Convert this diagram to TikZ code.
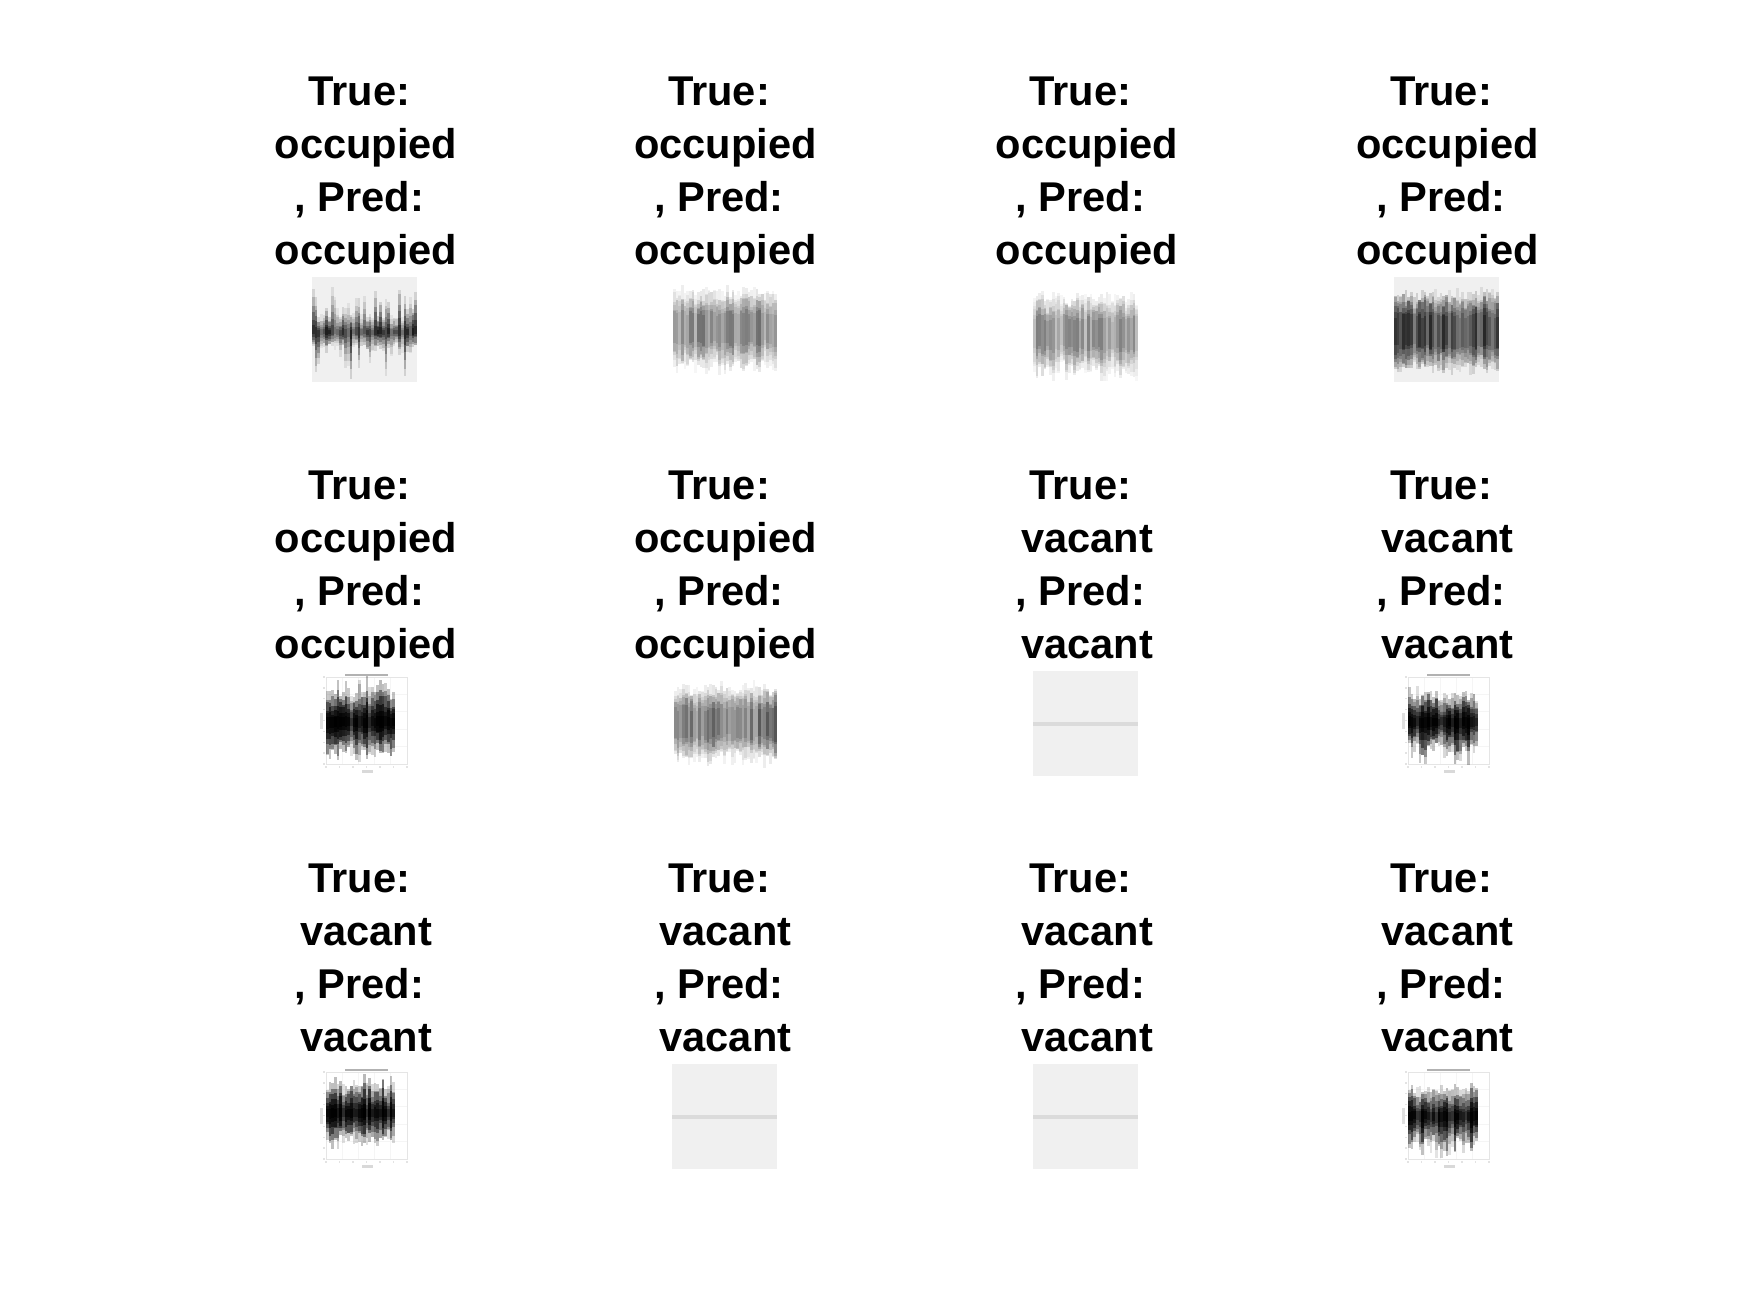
\documentclass[tikz,border=0pt]{standalone}
\usepackage{fontspec}
\setmainfont{Liberation Sans}
\newcommand{\gap}{\rule{6.5pt}{0pt}}
\newcommand{\lab}[4]{\node[labeltext] (#1) at (#2,#3) {True:\gap\\#4\\,\ Pred:\gap\\#4};}
% x0 x1 cy up down core layer-opacity seed spikiness
\newcommand{\wavebars}[9]{%
  \pgfmathsetseed{#8}%
  \pgfmathtruncatemacro{\nbars}{round((#2-#1)/2.7)}%
  \pgfmathsetmacro{\stepw}{(#2-#1)/\nbars}%
  \pgfmathsetmacro{\tpow}{#9<1 ? 0.45 : 1}%
  \pgfmathsetmacro{\slope}{#9<1 ? 0.6 : 0.85}%
  \pgfmathtruncatemacro{\nlast}{\nbars-1}%
  \foreach \k in {0,...,\nlast}{%
    \pgfmathsetmacro{\xa}{#1+\k*\stepw}%
    \pgfmathsetmacro{\xb}{\xa+\stepw}%
    \pgfmathsetmacro{\shade}{#7*(0.55+0.9*rnd)}%
    \pgfmathsetmacro{\ra}{pow(rnd,#9)}%
    \pgfmathsetmacro{\rb}{pow(rnd,#9)}%
    \foreach \t in {1,0.82,0.64,0.46,0.3,0.16}{%
      \pgfmathsetmacro{\tt}{pow(\t,\tpow)}%
      \pgfmathsetmacro{\ua}{#3-(#6*\tt*(0.8+0.4*rnd)+(#4-#6)*\tt*\ra)}%
      \pgfmathsetmacro{\ub}{#3+(#6*\tt*(0.8+0.4*rnd)+(#5-#6)*\tt*\rb)}%
      \pgfmathsetmacro{\lay}{min(1,\shade*(1.2-\slope*\t))}%
      \fill[black,opacity=\lay] (\xa,\ua) rectangle (\xb,\ub);
    }%
  }%
}
% left top : mini axes
\newcommand{\miniaxes}[2]{%
  \begin{scope}[shift={(#1,#2)}]
    \foreach \g in {0.2,0.4,0.6,0.8}{%
      \draw[gridline] ({81*\g},0) -- ({81*\g},87);
      \draw[gridline] (0,{87*\g}) -- (81,{87*\g});
    }
    \draw[axisline] (0,87) -- (0,0) -- (81,0) -- (81,87) -- cycle;
    \fill[gray!60] (19,-3.4) rectangle (62,-0.8);
    \fill[gray!25] (-6,36) rectangle (-3.5,52);
    \fill[gray!30] (36,93) rectangle (47,95.5);
    \foreach \g in {0,0.125,...,1}{\fill[gray!22] (-3,{87*\g-0.7}) rectangle (-1,{87*\g+0.7});}
    \foreach \g in {0,0.167,0.333,0.5,0.667,0.833,1}{\fill[gray!22] ({81*\g-0.7},89) rectangle ({81*\g+0.7},91);}
  \end{scope}
}
\newcommand{\blank}[2]{%
  \fill[panel] (#1,#2) rectangle ++(105,105);
  \fill[trace] (#1,#2+50.5) rectangle ++(105,4);
}
\tikzset{
  x=0.5pt,y=-0.5pt,
  labeltext/.style={inner sep=0pt,align=center,anchor=north,
    font=\fontsize{20.8pt}{26.55pt}\selectfont\bfseries},
  panel/.style={fill=black!6},
  trace/.style={fill=black!14},
  gridline/.style={draw=black!4,line width=0.4pt},
  axisline/.style={draw=black!10,line width=0.5pt}
}
\begin{document}
\begin{tikzpicture}
\useasboundingbox (0,0) rectangle (1750,1313);
\fill[white] (0,0) rectangle (1750,1313);
% labels
\lab{la}{366}{76}{occupied}
\lab{lb}{725.5}{76}{occupied}
\lab{lc}{1087}{76}{occupied}
\lab{ld}{1447.5}{76}{occupied}
\lab{le}{366}{470}{occupied}
\lab{lf}{725.5}{470}{occupied}
\lab{lg}{1087}{470}{vacant}
\lab{lh}{1447.5}{470}{vacant}
\lab{li}{366}{863}{vacant}
\lab{lj}{725.5}{863}{vacant}
\lab{lk}{1087}{863}{vacant}
\lab{ll}{1447.5}{863}{vacant}
% row 1
\fill[panel] (312,277) rectangle (417,382);
\wavebars{312}{417}{332}{46}{48}{14}{0.28}{11}{2.6}
\wavebars{673}{777}{328}{38}{42}{30}{0.105}{12}{0.8}
\wavebars{1033}{1138}{333}{40}{44}{30}{0.09}{13}{0.9}
\fill[panel] (1394,277) rectangle (1499,382);
\wavebars{1394}{1499}{331}{38}{38}{33}{0.21}{14}{0.6}
% row 2
\miniaxes{326}{677}
\wavebars{326}{395}{722}{42}{40}{26}{0.55}{21}{1.2}
\wavebars{674}{777}{723}{38}{40}{31}{0.13}{22}{0.8}
\blank{1033}{671}
\miniaxes{1408}{677}
\wavebars{1408}{1478}{722}{34}{42}{24}{0.55}{24}{1.6}
% row 3
\miniaxes{326}{1072}
\wavebars{326}{395}{1113}{36}{34}{25}{0.55}{31}{1.4}
\blank{672}{1064}
\blank{1033}{1064}
\miniaxes{1408}{1072}
\wavebars{1408}{1478}{1116}{32}{40}{24}{0.55}{34}{1.6}
\end{tikzpicture}
\end{document}
